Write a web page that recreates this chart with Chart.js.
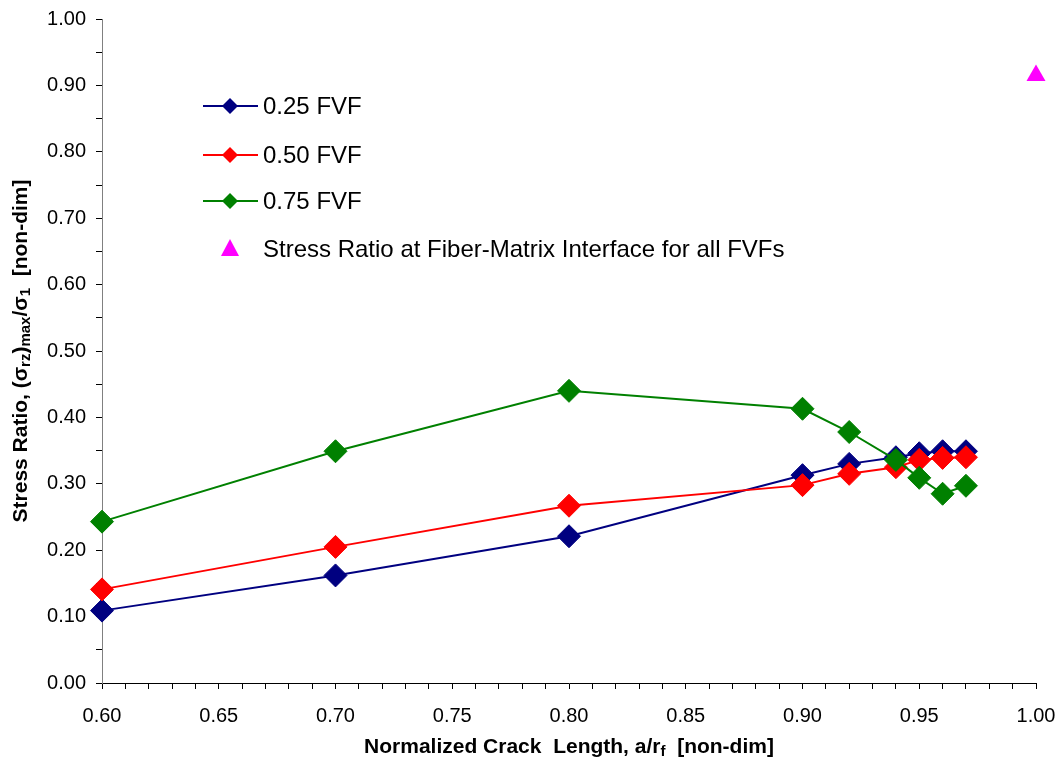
<html lang="en">
<head>
  <meta charset="UTF-8">
  <title>Stress Ratio vs Crack Length</title>
  <script src="https://cdn.jsdelivr.net/npm/chart.js"></script>
  <style>
    body { margin: 0; background: #fff; }
    #wrap { width: 1060px; height: 767px; position: relative; }
  </style>
</head>
<body>
  <div id="wrap">
    <canvas id="ratioChart"></canvas>
  </div>

  <script>
    // crack length a/rf
    const crackLength = [0.60, 0.70, 0.80, 0.90, 0.92, 0.94, 0.95, 0.96, 0.97];
    const fvf25 = [0.109, 0.162, 0.221, 0.313, 0.330, 0.340, 0.346, 0.349, 0.349];
    const fvf50 = [0.141, 0.205, 0.267, 0.298, 0.315, 0.325, 0.336, 0.339, 0.340];
    const fvf75 = [0.243, 0.349, 0.440, 0.413, 0.378, 0.336, 0.309, 0.285, 0.297];
    // fiber-matrix interface, all FVFs
    const interfaceX = [1.00];
    const interfaceY = [0.915];

    const seriesLabels = ['0.25 FVF', '0.50 FVF', '0.75 FVF', 'Stress Ratio at Fiber-Matrix Interface for all FVFs'];

    const toPoints = (xs, ys) => xs.map((x, i) => ({ x: x, y: ys[i] }));

    function lineSet(label, vals, color, order) {
      return {
        label: label,
        data: toPoints(crackLength, vals),
        borderColor: color,
        backgroundColor: color,
        borderWidth: 2,
        pointStyle: 'rectRot',
        pointRadius: 11.5,
        pointBorderWidth: 1,
        pointBorderColor: color,
        pointBackgroundColor: color,
        clip: false,
        order: order
      };
    }

    // draw text with subscripts, centered at 0,0
    function richText(ctx, parts) {
      const big = 'bold 21px Arial', small = 'bold 15px Arial';
      let w = 0;
      parts.forEach(p => { ctx.font = p.sub ? small : big; w += ctx.measureText(p.t).width; });
      let x = -w / 2;
      ctx.textBaseline = 'middle';
      ctx.textAlign = 'left';
      parts.forEach(p => {
        ctx.font = p.sub ? small : big;
        ctx.fillText(p.t, x, p.sub ? 5 : 0);
        x += ctx.measureText(p.t).width;
      });
    }

    const axisTitles = {
      id: 'axisTitles',
      afterDraw(chart) {
        const ctx = chart.ctx;
        const a = chart.chartArea;
        ctx.save();
        ctx.fillStyle = '#000';
        ctx.translate((a.left + a.right) / 2, 747);
        richText(ctx, [{ t: 'Normalized Crack  Length, a/r' }, { t: 'f', sub: true }, { t: '  [non-dim]' }]);
        ctx.restore();

        ctx.save();
        ctx.fillStyle = '#000';
        ctx.translate(21, (a.top + a.bottom) / 2);
        ctx.rotate(-Math.PI / 2);
        richText(ctx, [{ t: 'Stress Ratio, (σ' }, { t: 'rz', sub: true }, { t: ')' }, { t: 'max', sub: true },
          { t: '/σ' }, { t: '1', sub: true }, { t: '  [non-dim]' }]);
        ctx.restore();
      }
    };

    // legend box inside the plot
    const innerLegend = {
      id: 'innerLegend',
      afterDraw(chart) {
        const ctx = chart.ctx;
        const rows = [106, 155, 201, 249];
        ctx.save();
        chart.data.datasets.forEach((ds, i) => {
          const y = rows[i];
          const c = ds.borderColor;
          ctx.fillStyle = c;
          ctx.strokeStyle = c;
          if (ds.showLine !== false) {
            ctx.lineWidth = 2;
            ctx.beginPath();
            ctx.moveTo(203, y);
            ctx.lineTo(258, y);
            ctx.stroke();
            ctx.beginPath();
            ctx.moveTo(230, y - 8);
            ctx.lineTo(238, y);
            ctx.lineTo(230, y + 8);
            ctx.lineTo(222, y);
            ctx.closePath();
            ctx.fill();
          } else {
            ctx.beginPath();
            ctx.moveTo(230, y - 10);
            ctx.lineTo(239, y + 7);
            ctx.lineTo(221, y + 7);
            ctx.closePath();
            ctx.fill();
          }
          ctx.fillStyle = '#000';
          ctx.font = '24px Arial';
          ctx.textBaseline = 'middle';
          ctx.textAlign = 'left';
          ctx.fillText(ds.label, 263, y + 1);
        });
        ctx.restore();
      }
    };

    const ctx = document.getElementById('ratioChart').getContext('2d');
    const chart = new Chart(ctx, {
      type: 'line',
      data: {
        datasets: [
          lineSet(seriesLabels[0], fvf25, '#000080', 3),
          lineSet(seriesLabels[1], fvf50, '#FF0000', 2),
          lineSet(seriesLabels[2], fvf75, '#008000', 1),
          {
            label: seriesLabels[3],
            data: toPoints(interfaceX, interfaceY),
            showLine: false,
            borderColor: '#FF00FF',
            backgroundColor: '#FF00FF',
            pointStyle: 'triangle',
            pointRadius: 11,
            pointBorderWidth: 0,
            clip: false,
            order: 0
          }
        ]
      },
      options: {
        responsive: true,
        maintainAspectRatio: false,
        animation: false,
        layout: { padding: { top: 19, right: 24, left: 0, bottom: 0 } },
        plugins: {
          legend: { display: false },
          tooltip: { enabled: false }
        },
        scales: {
          x: {
            type: 'linear',
            min: 0.6,
            max: 1.0,
            afterFit: s => { s.height = 84; s.paddingLeft = 0; s.paddingRight = 0; },
            ticks: {
              stepSize: 0.01,
              autoSkip: false,
              maxRotation: 0,
              color: '#000',
              font: { family: 'Arial', size: 20 },
              padding: 15,
              callback: v => (Math.round(v * 100) % 5 === 0 ? v.toFixed(2) : '')
            },
            grid: { drawOnChartArea: false, drawTicks: true, tickLength: 6, color: '#000' },
            border: { color: '#000', width: 1 }
          },
          y: {
            min: 0,
            max: 1.0,
            afterFit: s => { s.width = 102; s.paddingTop = 0; s.paddingBottom = 0; },
            ticks: {
              stepSize: 0.05,
              autoSkip: false,
              color: '#000',
              font: { family: 'Arial', size: 20 },
              padding: 10,
              callback: v => (Math.round(v * 100) % 10 === 0 ? v.toFixed(2) : '')
            },
            grid: { drawOnChartArea: false, drawTicks: true, tickLength: 6, color: '#000' },
            border: { color: '#808080', width: 1 }
          }
        }
      },
      plugins: [axisTitles, innerLegend]
    });
  </script>
</body>
</html>
